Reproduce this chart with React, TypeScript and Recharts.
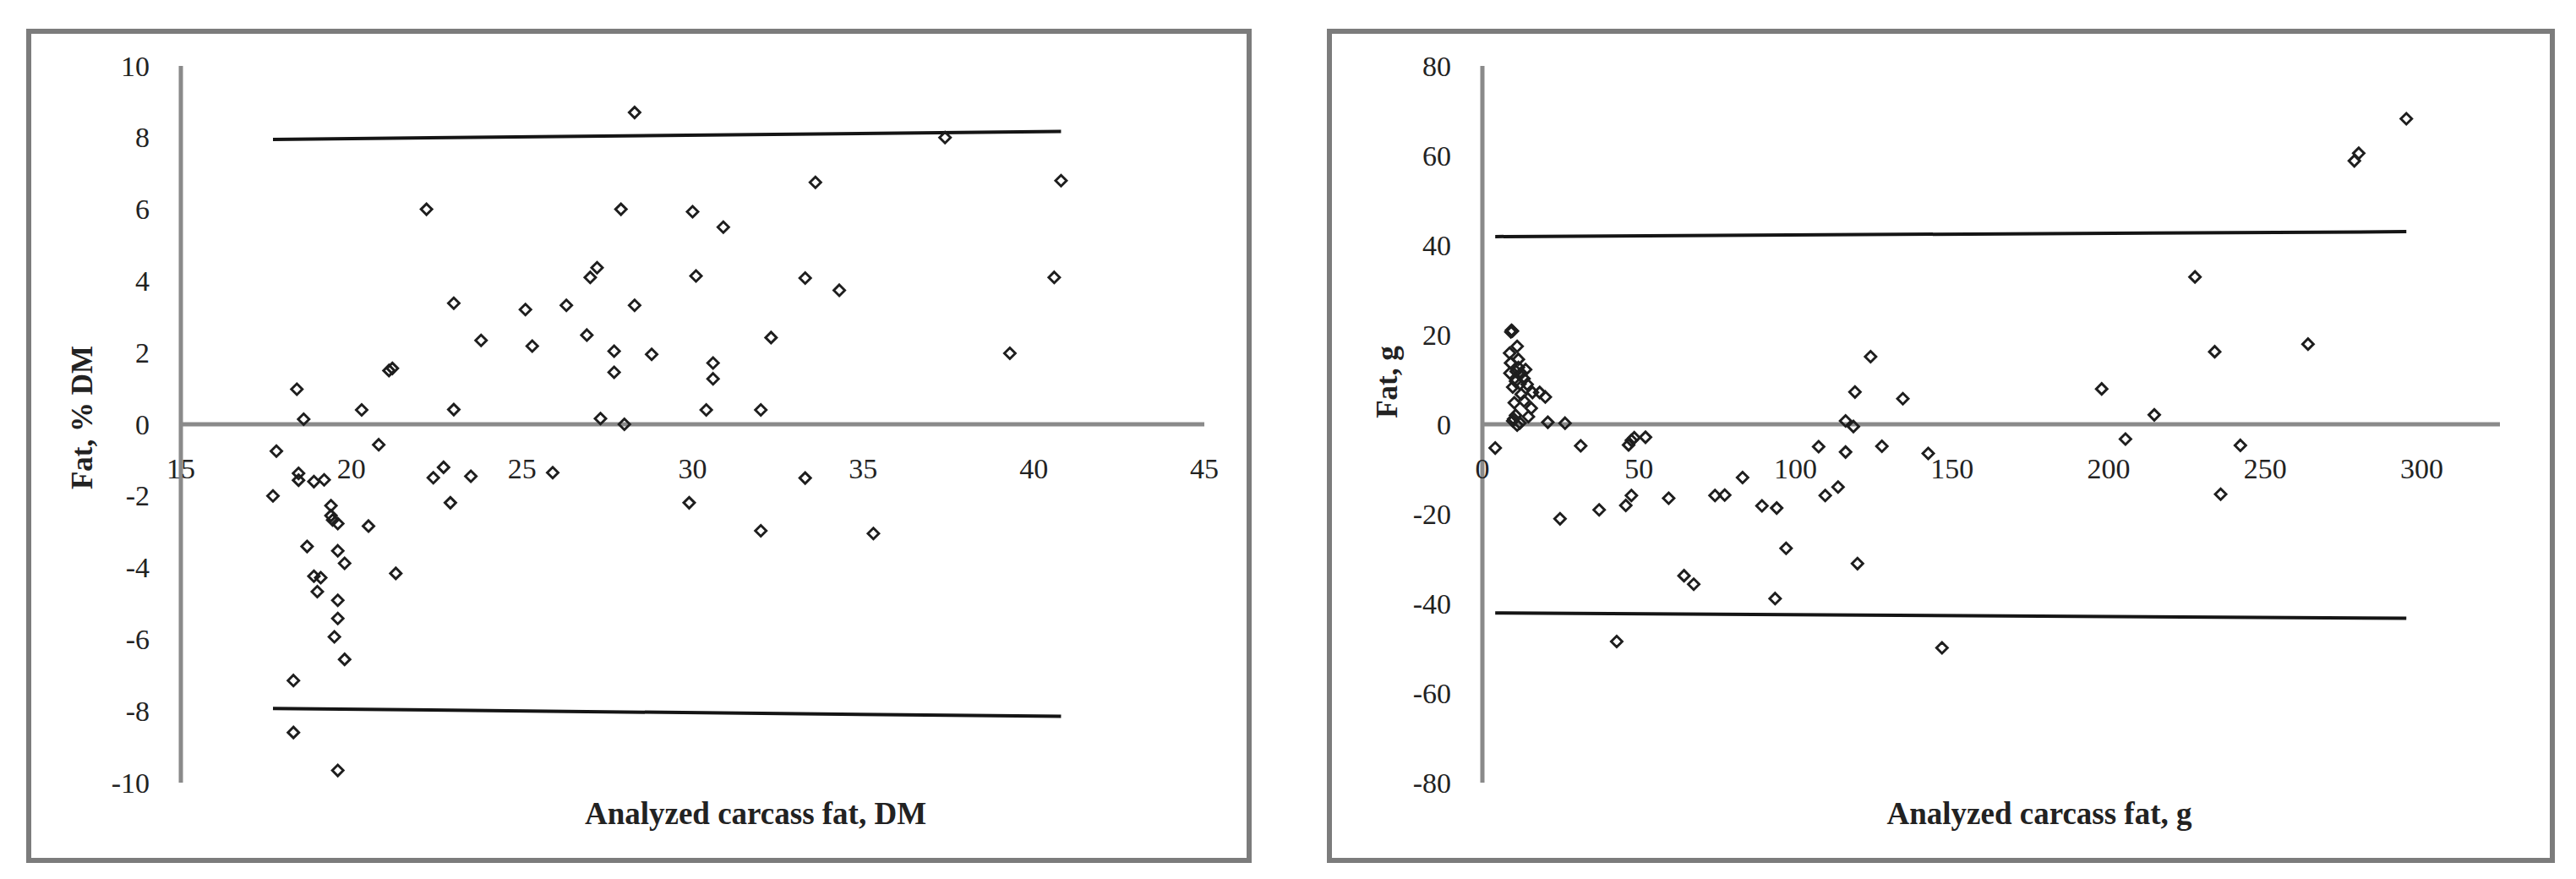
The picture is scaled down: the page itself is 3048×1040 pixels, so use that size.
import React from 'react';
import { ScatterChart, Scatter, XAxis, YAxis, ReferenceLine } from 'recharts';

// ---------- Left panel data: Fat, % DM vs analyzed carcass fat, DM ----------
const leftX = [28.3, 37.4, 33.6, 40.8, 22.2, 27.9, 30.0, 30.9, 27.2, 27.0, 30.1, 33.3, 40.6, 34.3, 23.0, 25.1, 26.3, 28.3, 23.8, 25.3, 26.9, 27.7, 28.8, 32.3, 39.3, 30.6, 30.6, 27.7, 21.1, 21.2, 18.4, 18.6, 20.3, 23.0, 27.3, 28.0, 30.4, 32.0, 17.8, 20.8, 17.7, 18.45, 18.45, 18.9, 19.2, 22.7, 22.4, 23.5, 25.9, 22.9, 29.9, 33.3, 19.4, 19.4, 19.45, 19.6, 20.5, 32.0, 35.3, 18.7, 19.6, 19.8, 21.3, 18.9, 19.1, 19.0, 19.6, 19.6, 19.5, 19.8, 18.3, 18.3, 19.6];
const leftY = [8.7, 8.0, 6.75, 6.8, 6.0, 6.0, 5.93, 5.5, 4.37, 4.1, 4.14, 4.08, 4.1, 3.74, 3.38, 3.2, 3.32, 3.32, 2.34, 2.18, 2.49, 2.04, 1.95, 2.42, 1.98, 1.71, 1.27, 1.45, 1.5, 1.56, 0.98, 0.14, 0.4, 0.41, 0.16, 0.0, 0.4, 0.4, -0.75, -0.57, -2.0, -1.37, -1.56, -1.6, -1.55, -1.2, -1.49, -1.45, -1.35, -2.19, -2.19, -1.5, -2.27, -2.55, -2.67, -2.77, -2.84, -2.97, -3.05, -3.41, -3.53, -3.88, -4.16, -4.24, -4.28, -4.67, -4.91, -5.42, -5.93, -6.56, -7.15, -8.6, -9.66];
const leftXTicks = [15, 20, 25, 30, 35, 40, 45];
const leftYTicks = [-10, -8, -6, -4, -2, 0, 2, 4, 6, 8, 10];
const leftUpper = [{ x: 17.7, y: 7.95 }, { x: 40.8, y: 8.17 }];
const leftLower = [{ x: 17.7, y: -7.93 }, { x: 40.8, y: -8.15 }];

// ---------- Right panel data: Fat, g vs analyzed carcass fat, g ----------
const rightX = [9.3, 9.6, 9.1, 11.1, 8.7, 9.0, 11.5, 12.4, 13.3, 8.8, 10.6, 14.3, 16.0, 18.3, 20.1, 9.7, 12.4, 10.2, 13.3, 15.6, 10.6, 14.7, 9.7, 11.1, 10.0, 12.0, 20.9, 26.4, 10.8, 12.0, 13.8, 11.5, 4.1, 31.4, 46.7, 47.6, 48.5, 52.1, 24.8, 37.3, 45.8, 47.6, 42.9, 59.5, 64.4, 67.5, 74.3, 77.4, 83.1, 89.3, 94.0, 93.5, 97.0, 107.4, 109.5, 113.6, 116.0, 118.5, 116.0, 119.0, 119.8, 124.0, 127.6, 134.3, 142.4, 146.8, 197.8, 205.4, 214.6, 227.6, 233.9, 235.8, 242.1, 263.7, 278.5, 279.9, 295.1];
const rightY = [21.0, 20.8, 20.6, 17.4, 15.9, 13.7, 12.7, 11.4, 10.2, 11.4, 9.6, 8.9, 7.1, 7.1, 6.1, 8.3, 6.7, 4.8, 5.2, 3.6, 2.0, 1.7, 0.75, -0.2, 1.2, 0.3, 0.45, 0.25, 11.8, 9.0, 12.2, 14.5, -5.3, -4.8, -4.6, -3.6, -3.0, -2.9, -21.1, -19.1, -18.1, -15.9, -48.5, -16.5, -33.8, -35.7, -15.9, -15.8, -11.9, -18.2, -18.7, -38.9, -27.7, -5.0, -15.9, -14.0, 0.75, -0.5, -6.2, 7.2, -31.1, 15.1, -4.9, 5.7, -6.5, -49.9, 7.9, -3.3, 2.1, 32.9, 16.2, -15.6, -4.7, 17.9, 58.8, 60.5, 68.2];
const rightXTicks = [0, 50, 100, 150, 200, 250, 300];
const rightYTicks = [-80, -60, -40, -20, 0, 20, 40, 60, 80];
const rightUpper = [{ x: 4.1, y: 41.9 }, { x: 295.1, y: 43.0 }];
const rightLower = [{ x: 4.1, y: -42.1 }, { x: 295.1, y: -43.3 }];

const leftData = leftX.map((x, i) => ({ x, y: leftY[i] }));
const rightData = rightX.map((x, i) => ({ x, y: rightY[i] }));

const FONT = "'Liberation Serif', 'DejaVu Serif', serif";
const TEXT = '#222';
const AXIS_GRAY = '#8a8a8a';
const PLOT_H = 848;

const Diamond = (props: any) => {
  const { cx, cy } = props;
  if (cx == null || cy == null) return null;
  const r = 6.5;
  return (
    <polygon
      points={`${cx},${cy - r} ${cx + r},${cy} ${cx},${cy + r} ${cx - r},${cy}`}
      fill="none"
      stroke="#1e1e1e"
      strokeWidth={2.9}
    />
  );
};

const tickTextStyle: React.CSSProperties = { fontFamily: FONT, fontSize: 34, fill: TEXT };

const makeXTick = (yMin: number, yMax: number) => (props: any) => {
  const { x, y, payload } = props;
  const zeroOffset = (PLOT_H * (0 - yMin)) / (yMax - yMin);
  return (
    <text x={x} y={y - zeroOffset + 52} textAnchor="middle" dominantBaseline="central"
      style={tickTextStyle}>
      {payload.value}
    </text>
  );
};

const YTick = (props: any) => {
  const { x, y, payload } = props;
  return (
    <text x={x} y={y} textAnchor="end" dominantBaseline="central" style={tickTextStyle}>
      {payload.value}
    </text>
  );
};

type PanelProps = {
  left: number;
  width: number;
  plotLeft: number;
  plotRight: number;
  data: { x: number; y: number }[];
  xDomain: [number, number];
  yDomain: [number, number];
  xTicks: number[];
  yTicks: number[];
  upper: { x: number; y: number }[];
  lower: { x: number; y: number }[];
};

const Panel = (p: PanelProps) => {
  const top = 40;
  const height = 976;
  const yW = 60;
  const xH = 30;
  const margin = {
    left: p.plotLeft - p.left - yW,
    right: p.left + p.width - p.plotRight,
    top: 78 - top,
    bottom: top + height - 926 - xH,
  };
  return (
    <div style={{ position: 'absolute', left: p.left, top, width: p.width, height, fontFamily: FONT }}>
      <ScatterChart width={p.width} height={height} margin={margin} style={{ fontFamily: FONT }}>
        <XAxis type="number" dataKey="x" domain={p.xDomain} ticks={p.xTicks} height={xH}
          axisLine={false} tickLine={false} tickSize={0} tickMargin={0}
          tick={makeXTick(p.yDomain[0], p.yDomain[1])} interval={0} allowDataOverflow />
        <YAxis type="number" dataKey="y" domain={p.yDomain} ticks={p.yTicks} width={yW}
          axisLine={{ stroke: AXIS_GRAY, strokeWidth: 5 }} tickLine={false} tickSize={0}
          tickMargin={37} tick={<YTick />} interval={0} allowDataOverflow />
        <ReferenceLine y={0} stroke={AXIS_GRAY} strokeWidth={5} />
        <ReferenceLine segment={p.upper} stroke="#151515" strokeWidth={4} />
        <ReferenceLine segment={p.lower} stroke="#151515" strokeWidth={4} />
        <Scatter data={p.data} shape={<Diamond />} isAnimationActive={false} />
      </ScatterChart>
    </div>
  );
};

const boxStyle = (left: number, width: number): React.CSSProperties => ({
  position: 'absolute', left, top: 34, width, height: 987,
  border: '6px solid #7c7c7c', boxSizing: 'border-box', background: '#fff',
});

const titleStyle: React.CSSProperties = {
  position: 'absolute', fontFamily: FONT, fontWeight: 'bold', color: TEXT,
  whiteSpace: 'nowrap', lineHeight: 1,
};

export default function App() {
  return (
    <div>
      <div style={boxStyle(31, 1450)} />
      <div style={boxStyle(1570, 1453)} />
      <Panel left={37} width={1438} plotLeft={214} plotRight={1425}
        data={leftData} xDomain={[15, 45]} yDomain={[-10, 10]}
        xTicks={leftXTicks} yTicks={leftYTicks} upper={leftUpper} lower={leftLower} />
      <Panel left={1576} width={1442} plotLeft={1754} plotRight={2958}
        data={rightData} xDomain={[0, 325]} yDomain={[-80, 80]}
        xTicks={rightXTicks} yTicks={rightYTicks} upper={rightUpper} lower={rightLower} />
      <div style={{ ...titleStyle, fontSize: 37, left: 894, top: 962, transform: 'translate(-50%, -50%)' }}>
        Analyzed carcass fat, DM
      </div>
      <div style={{ ...titleStyle, fontSize: 37, left: 2413, top: 962, transform: 'translate(-50%, -50%)' }}>
        Analyzed carcass fat, g
      </div>
      <div style={{ ...titleStyle, fontSize: 35, left: 97, top: 494, transform: 'translate(-50%, -50%) rotate(-90deg)' }}>
        Fat, % DM
      </div>
      <div style={{ ...titleStyle, fontSize: 35, left: 1641, top: 452, transform: 'translate(-50%, -50%) rotate(-90deg)' }}>
        Fat, g
      </div>
    </div>
  );
}
